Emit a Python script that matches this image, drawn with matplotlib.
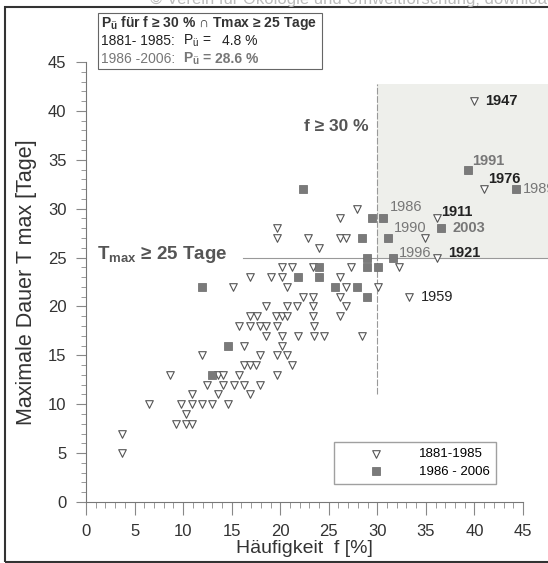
import matplotlib
matplotlib.use("Agg")
import matplotlib.pyplot as plt
from matplotlib.patches import Rectangle
from matplotlib.ticker import MultipleLocator

plt.rcParams['font.family'] = ['Liberation Sans', 'DejaVu Sans']
plt.rcParams['mathtext.fontset'] = 'custom'
plt.rcParams['mathtext.rm'] = 'Liberation Sans'
plt.rcParams['mathtext.bf'] = 'Liberation Sans:bold'

# 1881-1985: Haeufigkeit f [%] and max. Dauer Tmax [Tage]
f_old = [40.0, 41.0, 27.9, 26.2, 36.1, 19.7,
         19.7, 22.9, 26.2, 26.8, 34.9, 24.0, 36.1,
         20.2, 21.2, 23.4, 27.3, 32.2,
         16.9, 19.1, 20.2, 26.2,
         15.1, 20.7, 26.8, 30.1,
         22.3, 23.4, 26.2, 33.3,
         18.5, 20.7, 21.7, 23.4, 26.8,
         16.9, 17.6, 19.6, 20.2, 20.7, 23.4, 26.2,
         15.8, 16.9, 17.9, 18.5, 19.7, 23.5,
         18.5, 20.2, 21.8, 23.5, 24.5, 28.4,
         16.3, 20.2,
         11.9, 17.9, 19.7, 20.7,
         16.3, 16.9, 17.5, 21.2,
         8.7, 13.6, 14.1, 15.8, 19.7,
         12.5, 14.1, 15.2, 16.3, 17.9,
         10.9, 13.6, 16.9,
         6.5, 9.8, 10.9, 11.9, 13.0, 14.6,
         10.3,
         9.3, 10.3, 10.9,
         3.7, 3.7]
t_old = [41, 32, 30, 29, 29, 28,
         27, 27, 27, 27, 27, 26, 25,
         24, 24, 24, 24, 24,
         23, 23, 23, 23,
         22, 22, 22, 22,
         21, 21, 21, 21,
         20, 20, 20, 20, 20,
         19, 19, 19, 19, 19, 19, 19,
         18, 18, 18, 18, 18, 18,
         17, 17, 17, 17, 17, 17,
         16, 16,
         15, 15, 15, 15,
         14, 14, 14, 14,
         13, 13, 13, 13, 13,
         12, 12, 12, 12, 12,
         11, 11, 11,
         10, 10, 10, 10, 10, 10,
         9,
         8, 8, 8,
         7, 5]

# 1986-2006
f_new = [39.3, 22.3, 44.3, 29.5, 30.6, 36.6, 28.4, 31.1, 28.9, 31.6,
         24.0, 28.9, 30.1, 21.8, 24.0, 11.9, 25.6, 27.9, 28.9, 14.6, 13.0]
t_new = [34, 32, 32, 29, 29, 28, 27, 27, 25, 25,
         24, 24, 24, 23, 23, 22, 22, 22, 21, 16, 13]

# labelled years
label_years = ["1947", "1991", "1976", "1989", "1986", "1911",
               "2003", "1990", "1996", "1921", "1959"]
label_f = [40.0, 39.3, 41.0, 44.3, 30.6, 36.1, 36.6, 31.1, 31.6, 36.1, 33.3]
label_t = [41, 34, 32, 32, 29, 29, 28, 27, 25, 25, 21]

f_limit = 30
t_limit = 25

# styling of the year labels
label_offsets = [(8, 0), (3.5, 6.5), (3, 7), (5, 0), (5, 8), (3.5, 4.5),
                 (8, 0), (4.5, 7), (4.5, 3.5), (8, 3.5), (8, 0)]
label_bold = [True, True, True, False, False, True,
              True, False, False, True, False]
label_gray = [False, True, False, True, True, False,
              True, True, True, False, False]

W, H = 548, 563
fig = plt.figure(figsize=(W / 100, H / 100), dpi=100)
ax = fig.add_axes([86 / W, 1 - 502 / H, 437 / W, 440 / H])

# shaded exceedance area
ax.add_patch(Rectangle((f_limit, t_limit), 18, 17.7, facecolor='#eeefeb',
                       edgecolor='none', zorder=0, clip_on=False))
ax.plot([f_limit, f_limit], [11, 42.7], color='#999999', lw=0.8,
        ls=(0, (6, 1.5)), zorder=1, clip_on=False)
ax.plot([16.2, 48], [t_limit, t_limit], color='#999999', lw=0.8,
        zorder=1, clip_on=False)

ax.scatter(f_old, t_old, marker='v', s=30, facecolor='white',
           edgecolor='#555555', linewidths=0.8, zorder=3, label='1881-1985')
ax.scatter(f_new, t_new, marker='s', s=30, facecolor='#7a7a7a',
           edgecolor='#666666', linewidths=0.5, zorder=3, label='1986 - 2006')

for yr, fx, ty, off, bold, gray in zip(label_years, label_f, label_t,
                                       label_offsets, label_bold, label_gray):
    ax.annotate(yr, (fx, ty), xytext=off, textcoords='offset points',
                ha='left', va='center', fontsize=10.5,
                fontweight='bold' if bold else 'normal',
                color='#777777' if gray else '#222222', zorder=4)

ax.text(22.5, 38.4, 'f ≥ 30 %', fontsize=12.5, fontweight='bold',
        color='#555555', va='center', ha='left')
ax.text(1.1, 25.3, r'T$_\mathregular{max}$ ≥ 25 Tage', fontsize=13.5,
        fontweight='bold', color='#555555', va='center', ha='left')

ax.set_xlim(0, 45)
ax.set_ylim(0, 45)
for side in ['top', 'right']:
    ax.spines[side].set_visible(False)
for side in ['left', 'bottom']:
    ax.spines[side].set_color('#777777')
    ax.spines[side].set_linewidth(0.8)
ax.xaxis.set_major_locator(MultipleLocator(5))
ax.xaxis.set_minor_locator(MultipleLocator(1))
ax.yaxis.set_major_locator(MultipleLocator(5))
ax.yaxis.set_minor_locator(MultipleLocator(1))
ax.tick_params(axis='x', which='major', length=9.5, width=0.8, color='#888888',
               labelsize=12, labelcolor='#333333', pad=6)
ax.tick_params(axis='x', which='minor', length=4.5, width=0.7, color='#999999')
ax.tick_params(axis='y', which='major', length=7, width=0.8, color='#888888',
               labelsize=12, labelcolor='#333333', pad=7)
ax.tick_params(axis='y', which='minor', length=3.5, width=0.7, color='#999999')

ax.set_xlabel('Häufigkeit  f [%]', fontsize=14, color='#333333', labelpad=1)
ax.set_ylabel('Maximale Dauer T max [Tage]', fontsize=15.5,
              color='#333333', labelpad=8)

ax.legend(loc='upper left', bbox_to_anchor=(334 / W, 1 - 442 / H),
          bbox_transform=fig.transFigure, fontsize=9.5, frameon=True,
          fancybox=False, edgecolor='#888888', borderpad=0.45,
          handlelength=5.4, handletextpad=0.6, labelspacing=0.4,
          scatterpoints=1, borderaxespad=0)

# info box at top
fig.patches.append(Rectangle((98 / W, 1 - 69 / H), 224 / W, 56 / H,
                             transform=fig.transFigure, facecolor='white',
                             edgecolor='#666666', lw=0.8))
fig.text(101 / W, 1 - 23 / H,
         r'P$_\mathregular{ü}$ für f ≥ 30 % ∩ Tmax ≥ 25 Tage',
         fontsize=10, fontweight='bold', color='#333333', va='center')
fig.text(101 / W, 1 - 41 / H, '1881- 1985:', fontsize=10,
         color='#222222', va='center')
fig.text(183 / W, 1 - 41 / H, r'P$_\mathregular{ü}$ =', fontsize=10,
         color='#222222', va='center')
fig.text(258 / W, 1 - 41 / H, '4.8 %', fontsize=10,
         color='#222222', va='center', ha='right')
fig.text(101 / W, 1 - 59 / H, '1986 -2006:', fontsize=10,
         color='#777777', va='center')
fig.text(183 / W, 1 - 59 / H, r'P$_\mathregular{ü}$ =', fontsize=10,
         fontweight='bold', color='#777777', va='center')
fig.text(258 / W, 1 - 59 / H, '28.6 %', fontsize=10, fontweight='bold',
         color='#777777', va='center', ha='right')

# source line and frame
fig.text(150 / W, 1.003,
         '© Verein für Ökologie und Umweltforschung; download unter www.zobodat.at',
         fontsize=12, color='#bbbbbb', va='center', ha='left')
fig.patches.append(Rectangle((5 / W, 1.5 / H), 1.0, 1 - 8.5 / H,
                             transform=fig.transFigure, fill=False,
                             edgecolor='#333333', lw=1.5))

fig.savefig('out.png', dpi=100)
